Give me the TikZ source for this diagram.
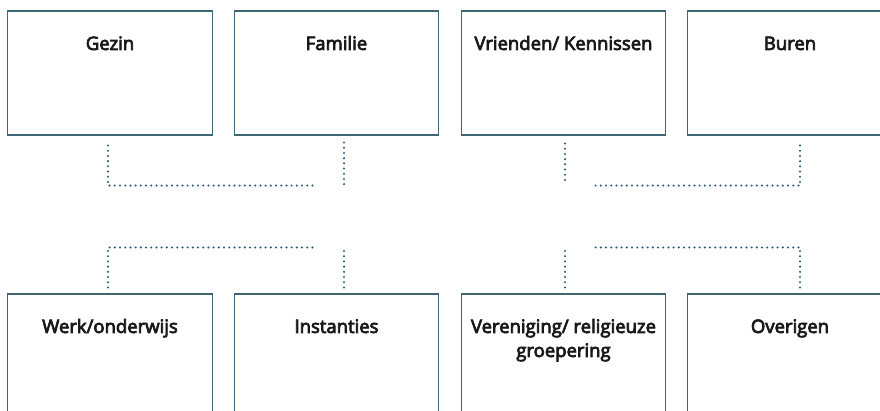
\documentclass[tikz,border=0pt]{standalone}
\usepackage{fontspec}
\newfontfamily\boxfont{Open Sans}[FakeBold=4]
\usepackage{tikz}
\usetikzlibrary{positioning}
\definecolor{boxcol}{HTML}{3E6773}
\definecolor{dotcol}{HTML}{245C70}
\tikzset{
  box/.style={rectangle, draw=boxcol, line width=1.1pt, minimum width=204.5pt, minimum height=124pt, inner sep=0},
  lbl/.style={anchor=base, align=center, font=\boxfont\fontsize{18.5}{24}\selectfont, text=black!90},
  dots/.style={draw=dotcol, line width=2.3pt, line cap=round, dash pattern=on 0pt off 5.2pt}
}
\begin{document}
\begin{tikzpicture}[x=1pt,y=-1pt]
\useasboundingbox (0,0) rectangle (880,411);
\clip (0,0) rectangle (880,411);
% boxes
\foreach \x/\y/\n in {110/73/gezin,336.5/73/familie,563.5/73/vrienden,790/73/buren,
	110/356/werk,336.5/356/instanties,563.5/356/vereniging,790/356/overigen} {
	\node[box] (\n) at(\x,\y) {};
};
\foreach \n/\s/\t in {gezin/0/Gezin,familie/0/Familie,vrienden/0/{Vrienden/ Kennissen},buren/0/Buren,
	werk/0/{Werk/onderwijs},instanties/0/Instanties,vereniging/24/{Vereniging/ religieuze\\groepering},overigen/0/Overigen} {
	\node[lbl] at([yshift=-39.5pt-\s pt]\n.north) {\t};
};
% dotted brackets
\path[dots]
	([xshift=-2pt,yshift=-10pt]gezin.south) |- ([xshift=-19.5pt,yshift=-50pt]familie.south)
	([xshift=7.5pt,yshift=-7pt]familie.south) -- ([xshift=7.5pt,yshift=-49pt]familie.south)
	([xshift=1.5pt,yshift=-8pt]vrienden.south) -- ([xshift=1.5pt,yshift=-49pt]vrienden.south)
	([xshift=10pt,yshift=-10pt]buren.south) |- ([xshift=28.5pt,yshift=-50pt]vrienden.south);
\path[dots]
	([xshift=-2pt,yshift=6pt]werk.north) |- ([xshift=-19.5pt,yshift=46pt]instanties.north)
	([xshift=7.5pt,yshift=6pt]instanties.north) -- ([xshift=7.5pt,yshift=46pt]instanties.north)
	([xshift=1.5pt,yshift=6pt]vereniging.north) -- ([xshift=1.5pt,yshift=46pt]vereniging.north)
	([xshift=10pt,yshift=6pt]overigen.north) |- ([xshift=28.5pt,yshift=46pt]vereniging.north);
\end{tikzpicture}
\end{document}
